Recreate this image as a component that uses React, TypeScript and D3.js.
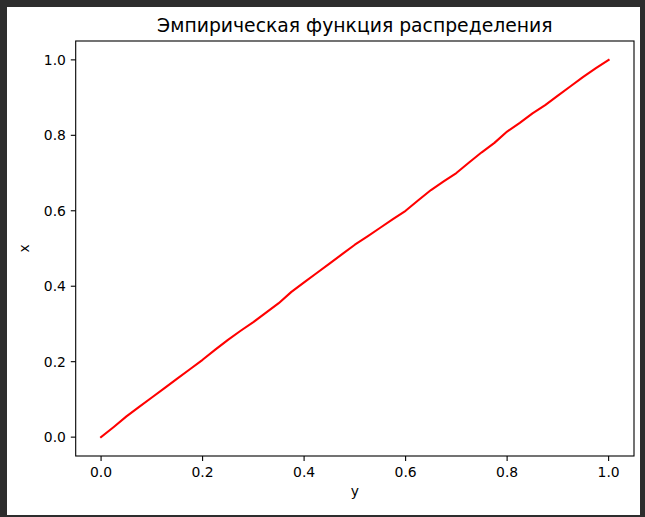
import React from "react";
import * as d3 from "d3";

const xValues = [0, 0.025, 0.05, 0.075, 0.1, 0.125, 0.15, 0.175, 0.2, 0.225, 0.25, 0.275, 0.3, 0.325, 0.35, 0.375, 0.4, 0.425, 0.45, 0.475, 0.5, 0.525, 0.55, 0.575, 0.6, 0.625, 0.65, 0.675, 0.7, 0.725, 0.75, 0.775, 0.8, 0.825, 0.85, 0.875, 0.9, 0.925, 0.95, 0.975, 1.0];
const yValues = [0, 0.027, 0.055, 0.08, 0.105, 0.13, 0.155, 0.18, 0.205, 0.232, 0.258, 0.282, 0.305, 0.33, 0.355, 0.385, 0.41, 0.435, 0.46, 0.485, 0.51, 0.532, 0.555, 0.578, 0.6, 0.628, 0.655, 0.678, 0.7, 0.728, 0.755, 0.78, 0.81, 0.833, 0.858, 0.88, 0.905, 0.93, 0.955, 0.978, 1.0];
const xTicks = [0, 0.2, 0.4, 0.6, 0.8, 1.0];
const yTicks = [0, 0.2, 0.4, 0.6, 0.8, 1.0];
const title = "Эмпирическая функция распределения";
const xLabel = "y";
const yLabel = "x";

export default function App() {
  const W = 645, H = 517;
  const left = 75.7, right = 634, top = 41, bottom = 456;
  const x = d3.scaleLinear().domain([-0.05, 1.05]).range([left, right]);
  const y = d3.scaleLinear().domain([-0.05, 1.05]).range([bottom, top]);
  const line = d3.line<number>().x((_, i) => x(xValues[i])).y((d) => y(d));
  const font = "DejaVu Sans, sans-serif";
  const fs = 13.9;
  const fmt = d3.format(".1f");
  return (
    <svg width={W} height={H} style={{ position: "absolute", left: 0, top: 0 }} fontFamily={font}>
      <rect x={0} y={0} width={W} height={H} fill="#2d2d2d" />
      <rect x={7} y={7} width={633} height={508} fill="#ffffff" />
      <text x={(left + right) / 2} y={31.5} textAnchor="middle" fontSize={18.8} fill="#000">{title}</text>
      <path d={line(yValues) || ""} fill="none" stroke="#ff0000" strokeWidth={2.1} strokeLinejoin="round" strokeLinecap="square" />
      <rect x={left} y={top} width={right - left} height={bottom - top} fill="none" stroke="#000" strokeWidth={1.1} />
      {xTicks.map((t) => (
        <g key={"x" + t}>
          <line x1={x(t)} x2={x(t)} y1={bottom} y2={bottom + 4.9} stroke="#000" strokeWidth={1.1} />
          <text x={x(t)} y={477} textAnchor="middle" fontSize={fs} fill="#000">{fmt(t)}</text>
        </g>
      ))}
      {yTicks.map((t) => (
        <g key={"y" + t}>
          <line x1={left - 4.9} x2={left} y1={y(t)} y2={y(t)} stroke="#000" strokeWidth={1.1} />
          <text x={left - 9.8} y={y(t)} dy="0.35em" textAnchor="end" fontSize={fs} fill="#000">{fmt(t)}</text>
        </g>
      ))}
      <text x={(left + right) / 2} y={496} textAnchor="middle" fontSize={fs} fill="#000">{xLabel}</text>
      <text transform={`translate(29,${(top + bottom) / 2}) rotate(-90)`} textAnchor="middle" fontSize={fs} fill="#000">{yLabel}</text>
    </svg>
  );
}
